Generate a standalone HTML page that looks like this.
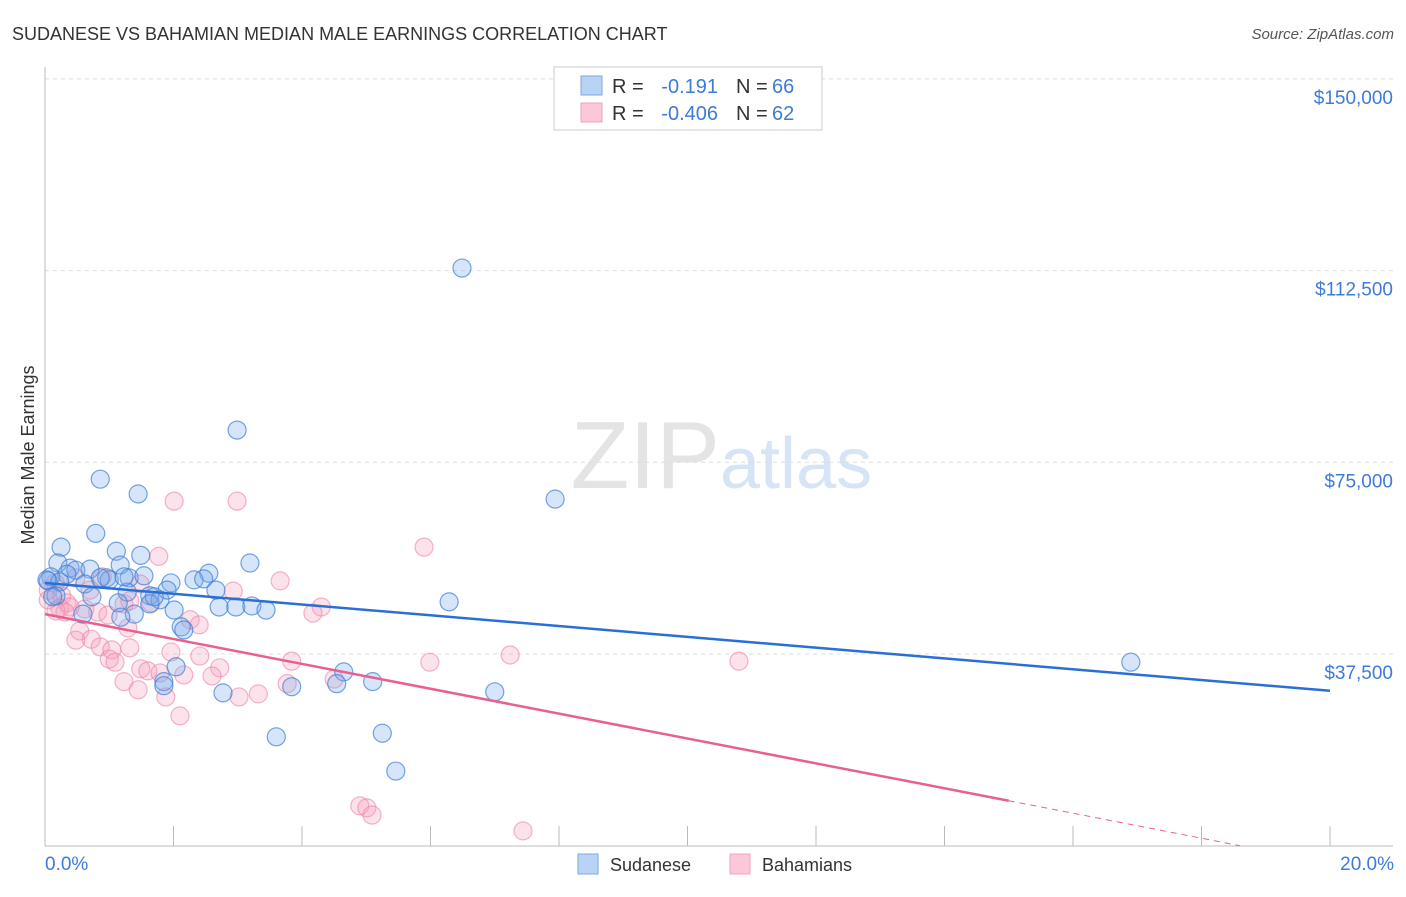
<!DOCTYPE html>
<html><head><meta charset="utf-8"><style>
body{margin:0;background:#fff;font-family:"Liberation Sans",sans-serif}
svg text{font-family:"Liberation Sans",sans-serif}
</style></head><body>
<svg id="chart" width="1406" height="892" viewBox="0 0 1406 892">
<text x="12" y="40" font-size="18" fill="#333">SUDANESE VS BAHAMIAN MEDIAN MALE EARNINGS CORRELATION CHART</text>
<text x="1394" y="39" font-size="15" fill="#555" font-style="italic" text-anchor="end">Source: ZipAtlas.com</text>
<text x="34" y="455" font-size="18" fill="#333" text-anchor="middle" transform="rotate(-90 34 455)">Median Male Earnings</text>
<text x="720" y="488" font-size="96" fill="#e4e4e4" text-anchor="end" font-family="Liberation Serif">ZIP</text>
<text x="720" y="488" font-size="72" fill="#d6e4f6">atlas</text>
<g id="grid"></g><g id="axes"></g><g id="pts"></g><g id="lines"></g>
<g>
<rect x="554" y="67" width="268" height="63" fill="#fff" stroke="#ccc"/>
<rect x="581" y="76" width="21" height="19" fill="#b8d3f4" stroke="#7aaae6"/>
<rect x="581" y="103" width="21" height="19" fill="#fcc8d8" stroke="#f0a0bc"/>
<text x="612" y="93" font-size="20" fill="#333">R =</text>
<text x="718" y="93" font-size="20" fill="#3d7bd9" text-anchor="end">-0.191</text>
<text x="736" y="93" font-size="20" fill="#333">N =</text>
<text x="772" y="93" font-size="20" fill="#3d7bd9">66</text>
<text x="612" y="120" font-size="20" fill="#333">R =</text>
<text x="718" y="120" font-size="20" fill="#3d7bd9" text-anchor="end">-0.406</text>
<text x="736" y="120" font-size="20" fill="#333">N =</text>
<text x="772" y="120" font-size="20" fill="#3d7bd9">62</text>
</g>
<g>
<rect x="578" y="854" width="20" height="20" fill="#b8d3f4" stroke="#7aaae6"/>
<text x="610" y="871" font-size="18" fill="#333">Sudanese</text>
<rect x="730" y="854" width="20" height="20" fill="#fcc8d8" stroke="#f0a0bc"/>
<text x="762" y="871" font-size="18" fill="#333">Bahamians</text>
</g>
</svg>
<script>
const blueX=[6.49,2.99,0.86,1.45,7.94,0.79,0.25,1.11,1.49,3.19,0.20,0.39,0.48,0.70,1.17,2.55,0.34,0.09,0.96,1.31,1.54,1.96,2.32,2.47,0.05,0.23,0.62,1.00,1.63,1.79,1.28,1.90,2.66,0.73,0.17,1.14,2.01,2.71,2.97,3.22,3.44,6.29,1.39,0.59,2.12,2.16,1.18,2.04,4.65,4.54,5.10,1.85,1.85,3.84,2.77,7.00,16.90,3.60,5.25,5.46,0.03,1.63,1.23,0.86,0.12,1.70];
const blueY=[113.0,81.3,71.7,68.8,67.8,61.1,58.4,57.6,56.8,55.3,55.3,54.3,53.9,54.1,54.9,53.3,53.1,52.6,52.4,52.4,52.8,51.4,52.0,52.2,51.8,51.6,51.2,52.0,48.9,48.1,49.6,50.0,50.0,48.7,48.9,47.5,46.1,46.7,46.7,46.9,46.1,47.7,45.3,45.3,42.8,42.2,44.7,35.0,34.0,31.7,32.1,32.1,31.3,31.1,29.9,30.1,35.9,21.3,22.0,14.6,52.0,47.3,52.6,52.4,48.7,48.7];
const pinkX=[2.01,2.99,5.90,1.77,3.66,2.93,0.89,0.48,0.16,0.05,0.26,0.34,0.62,4.30,4.17,1.23,0.82,1.65,2.26,0.54,0.72,0.48,1.29,0.86,1.04,1.00,1.09,1.32,2.40,2.41,1.49,1.60,1.79,2.16,1.96,2.72,2.60,3.84,5.99,7.24,10.80,1.23,1.45,1.88,3.02,3.32,3.77,4.50,2.10,4.90,5.01,5.09,7.44,0.05,0.23,0.39,0.70,1.48,0.17,0.31,1.32,0.98];
const pinkY=[67.4,67.4,58.4,56.6,51.8,49.8,52.6,52.4,51.4,50.0,48.9,47.5,46.3,46.7,45.5,47.3,45.7,47.5,44.2,42.0,40.4,40.2,42.6,38.9,38.3,36.5,35.9,38.7,43.2,37.1,34.6,34.2,33.8,33.4,37.9,34.8,33.2,36.1,35.9,37.3,36.1,32.1,30.5,29.1,29.1,29.7,31.7,32.6,25.4,7.8,7.4,6.0,2.9,48.1,46.5,46.7,50.0,51.2,45.9,45.7,47.9,45.1];
const yTicks=[37.5,75,112.5,150];
const yTickLabels=["$37,500","$75,000","$112,500","$150,000"];
const xTicks=[0,2,4,6,8,10,12,14,16,18,20];
const blueTrend=[[0,51.4],[20,30.3]];
const pinkTrend=[[0,45.3],[15,8.8]];
const pinkDash=[[15,8.8],[18.6,0]];

const sx=v=>45+v*64.25;
const sy=v=>845.7-v*5.112;
const NS="http://www.w3.org/2000/svg";
function mk(tag,attrs,parent){const e=document.createElementNS(NS,tag);for(const k in attrs)e.setAttribute(k,attrs[k]);parent.appendChild(e);return e;}
const grid=document.getElementById('grid'),axes=document.getElementById('axes'),pts=document.getElementById('pts'),lines=document.getElementById('lines');
yTicks.forEach((t,i)=>{
  const l=mk('line',{x1:45,x2:1393,y1:sy(t),y2:sy(t),stroke:'#ddd','stroke-dasharray':'4 4'},grid);
  
  
  const tx=mk('text',{x:1393,y:sy(t)+25,'font-size':19,fill:'#3d7bd9','text-anchor':'end'},grid);
  tx.textContent=yTickLabels[i];
  
  
});
const ya=mk('line',{x1:45,x2:45,y1:67,y2:846,stroke:'#bbb'},axes);


const xa=mk('line',{x1:45,x2:1393,y1:846,y2:846,stroke:'#bbb'},axes);


xTicks.forEach(t=>{
  const tk=mk('line',{x1:sx(t),x2:sx(t),y1:826,y2:846,stroke:'#bbb'},axes);
  
  
});
const xl0=mk('text',{x:45,y:870,'font-size':19,fill:'#3d7bd9'},axes);xl0.textContent='0.0%';


const xl1=mk('text',{x:1394,y:870,'font-size':19,fill:'#3d7bd9','text-anchor':'end'},axes);xl1.textContent='20.0%';


pinkX.forEach((x,i)=>{
  const c=mk('circle',{cx:sx(x),cy:sy(pinkY[i]),r:9,fill:'rgba(244,160,188,0.3)',stroke:'rgba(236,130,165,0.6)','stroke-width':1.2},pts);
  
  
});
blueX.forEach((x,i)=>{
  const c=mk('circle',{cx:sx(x),cy:sy(blueY[i]),r:9,fill:'rgba(120,170,235,0.3)',stroke:'rgba(60,125,215,0.7)','stroke-width':1.2},pts);
  
  
});
const bl=mk('line',{x1:sx(blueTrend[0][0]),y1:sy(blueTrend[0][1]),x2:sx(blueTrend[1][0]),y2:sy(blueTrend[1][1]),stroke:'#2a6fd6','stroke-width':2.5},lines);


const pl=mk('line',{x1:sx(pinkTrend[0][0]),y1:sy(pinkTrend[0][1]),x2:sx(pinkTrend[1][0]),y2:sy(pinkTrend[1][1]),stroke:'#e8608e','stroke-width':2.5},lines);


const pd=mk('line',{x1:sx(pinkDash[0][0]),y1:sy(pinkDash[0][1]),x2:sx(pinkDash[1][0]),y2:sy(pinkDash[1][1]),stroke:'#e8608e','stroke-width':1,'stroke-dasharray':'6 5'},lines);


</script>
</body></html>
